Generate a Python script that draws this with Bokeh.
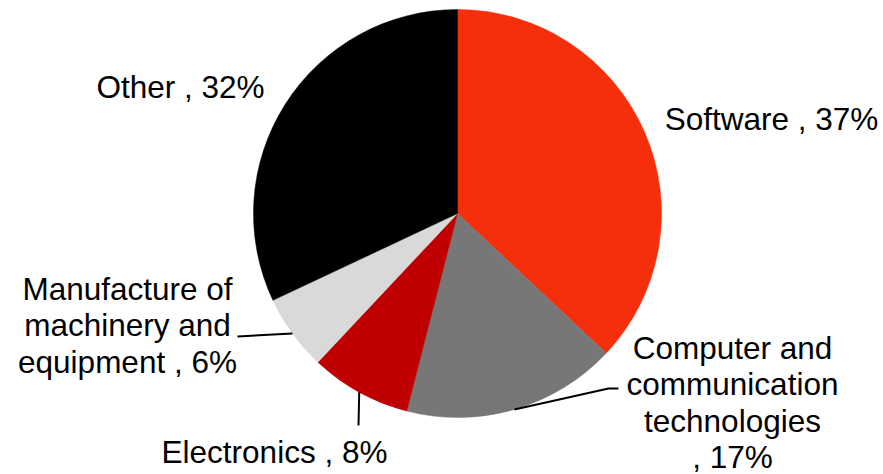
import numpy as np
from bokeh.plotting import figure
from bokeh.models import Range1d, ColumnDataSource
from bokeh.core.properties import value
from bokeh.embed import file_html
from bokeh.resources import INLINE

# ---- data ----
categories = ["Software", "Computer and\ncommunication\ntechnologies\n", "Electronics",
              "Manufacture of\nmachinery and\nequipment", "Other"]
shares = [37, 17, 8, 6, 32]
colors = ["#F52F0B", "#777777", "#C00000", "#D9D9D9", "#000000"]

# ---- layout (screen pixel space; data y = H - screen y) ----
W, H = 883, 474
def Y(sy):
    return H - sy

cx, cy, r = 457, Y(213), 204

vals = np.array(shares, dtype=float)
frac = vals / vals.sum()
cum = np.concatenate([[0], np.cumsum(frac)])
start = np.pi / 2 - 2 * np.pi * cum[:-1]
end = np.pi / 2 - 2 * np.pi * cum[1:]
mid = (start + end) / 2

p = figure(width=W, height=H, output_backend="svg", toolbar_location=None,
           x_range=Range1d(0, W), y_range=Range1d(0, H),
           min_border=0)
p.axis.visible = False
p.grid.visible = False
p.outline_line_color = None
p.background_fill_color = "white"

src = ColumnDataSource(dict(start=start, end=end, color=colors))
p.wedge(x=cx, y=cy, radius=r, start_angle="start", end_angle="end",
        direction="clock", fill_color="color", line_color="color",
        line_width=0.5, source=src)

# leader lines: from pie edge at mid-angle to label
edge_x = cx + r * np.cos(mid)
edge_y = cy + r * np.sin(mid)
leader_pts = {
    1: [(608, 388), (618, 388)],
    2: [(358, 425)],
    3: [(237, 336)],
}
for i, pts in leader_pts.items():
    xs = [edge_x[i]] + [px for px, _ in pts]
    ys = [edge_y[i]] + [Y(py) for _, py in pts]
    p.line(xs, ys, line_color="black", line_width=2)

# labels
label_x = [771, 732, 274, 127, 180]
label_first_baseline = [118, 347, 451, 288, 86]
line_step = 36.6
tx, ty, tt = [], [], []
for i, cat in enumerate(categories):
    txt = cat + " , " + str(shares[i]) + "%"
    lines = txt.split("\n")
    for k, ln in enumerate(lines):
        tx.append(label_x[i])
        ty.append(Y(label_first_baseline[i] + k * line_step))
        tt.append(ln.strip() if k > 0 else ln)

p.text(x=tx, y=ty, text=tt, text_font=value("Liberation Sans"),
       text_font_size="31.5px", text_align="center", text_baseline="alphabetic",
       text_color="black")

open("out.html", "w").write(file_html(p, INLINE))
